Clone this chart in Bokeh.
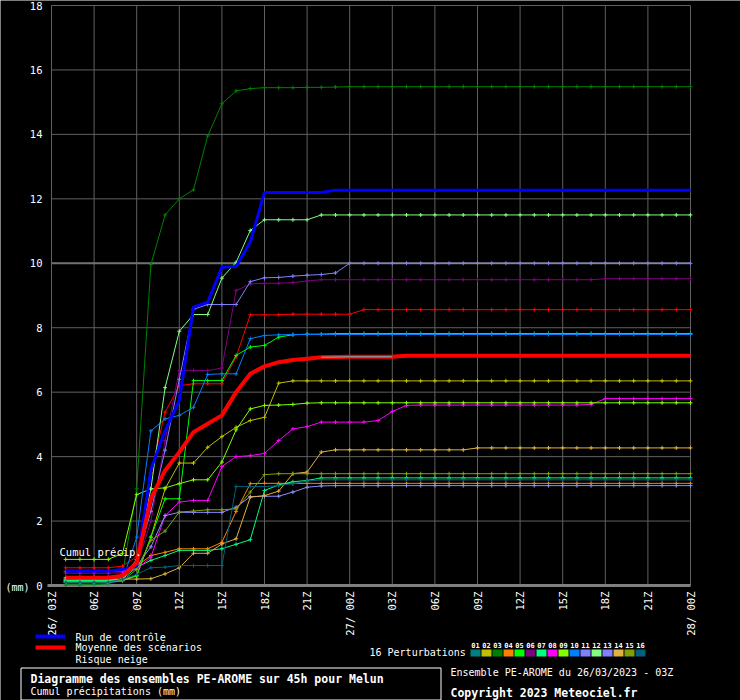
import math
from bokeh.plotting import figure
from bokeh.models import Range1d, ColumnDataSource
from bokeh.core.properties import value
from bokeh.embed import file_html
from bokeh.resources import INLINE

# ---------------- data ----------------
hours = [1, 2, 3, 4, 5, 6, 7, 8, 9, 10, 11, 12, 13, 14, 15, 16, 17, 18, 19, 20,
         21, 22, 23, 24, 25, 26, 27, 28, 29, 30, 31, 32, 33, 34, 35, 36, 37, 38, 39, 40,
         41, 42, 43, 44, 45]

x_ticks = [0, 3, 6, 9, 12, 15, 18, 21, 24, 27, 30, 33, 36, 39, 42, 45]
x_tick_labels = ["26/ 03Z", "06Z", "09Z", "12Z", "15Z", "18Z", "21Z", "27/ 00Z",
                 "03Z", "06Z", "09Z", "12Z", "15Z", "18Z", "21Z", "28/ 00Z"]
y_ticks = [0, 2, 4, 6, 8, 10, 12, 14, 16, 18]
y_tick_labels = ["0", "2", "4", "6", "8", "10", "12", "14", "16", "18"]

m01 = [0.55, 0.55, 0.55, 0.55, 0.6, 0.9, 3.5, 5.38, 6.2, 6.26,
       6.26, 6.26, 7.09, 8.4, 8.4, 8.4, 8.42, 8.42, 8.42, 8.42,
       8.42, 8.56, 8.56, 8.56, 8.56, 8.56, 8.56, 8.56, 8.56, 8.56,
       8.56, 8.56, 8.56, 8.56, 8.56, 8.56, 8.56, 8.56, 8.56, 8.56,
       8.56, 8.56, 8.56, 8.56, 8.56]
m02 = [0.12, 0.12, 0.12, 0.12, 0.15, 0.3, 1.5, 3.0, 3.8, 3.8,
       4.29, 4.62, 4.91, 5.12, 5.22, 6.28, 6.35, 6.35, 6.35, 6.35,
       6.35, 6.35, 6.35, 6.35, 6.35, 6.35, 6.35, 6.35, 6.35, 6.35,
       6.35, 6.35, 6.35, 6.35, 6.35, 6.35, 6.35, 6.35, 6.35, 6.35,
       6.35, 6.35, 6.35, 6.35, 6.35]
m03 = [0.02, 0.02, 0.03, 0.05, 0.35, 3.0, 9.96, 11.5, 12.0, 12.28,
       13.95, 14.95, 15.35, 15.42, 15.45, 15.45, 15.45, 15.46, 15.46, 15.47,
       15.48, 15.48, 15.48, 15.48, 15.48, 15.48, 15.48, 15.48, 15.48, 15.48,
       15.48, 15.48, 15.48, 15.48, 15.48, 15.48, 15.48, 15.48, 15.48, 15.48,
       15.48, 15.48, 15.48, 15.48, 15.48]
m04 = [0.15, 0.15, 0.15, 0.15, 0.3, 0.6, 0.93, 1.03, 1.14, 1.14,
       1.14, 1.34, 2.3, 3.16, 3.17, 3.17, 3.17, 3.17, 3.17, 3.17,
       3.17, 3.17, 3.17, 3.17, 3.17, 3.17, 3.17, 3.17, 3.17, 3.17,
       3.17, 3.17, 3.17, 3.17, 3.17, 3.17, 3.17, 3.17, 3.17, 3.17,
       3.17, 3.17, 3.17, 3.17, 3.17]
m05 = [0.16, 0.16, 0.16, 0.16, 0.2, 0.3, 1.5, 2.69, 2.69, 6.36,
       6.36, 6.36, 7.14, 7.4, 7.45, 7.71, 7.78, 7.8, 7.8, 7.82,
       7.82, 7.82, 7.82, 7.82, 7.82, 7.82, 7.82, 7.82, 7.82, 7.82,
       7.82, 7.82, 7.82, 7.82, 7.82, 7.82, 7.82, 7.82, 7.82, 7.82,
       7.82, 7.82, 7.82, 7.82, 7.82]
m06 = [0.38, 0.38, 0.38, 0.38, 0.4, 0.6, 2.0, 4.5, 6.67, 6.67,
       6.67, 6.75, 9.15, 9.36, 9.38, 9.38, 9.4, 9.45, 9.49, 9.49,
       9.49, 9.49, 9.49, 9.49, 9.49, 9.49, 9.49, 9.49, 9.49, 9.49,
       9.49, 9.49, 9.49, 9.49, 9.49, 9.49, 9.49, 9.49, 9.52, 9.52,
       9.52, 9.52, 9.52, 9.52, 9.52]
m07 = [0.15, 0.15, 0.15, 0.15, 0.2, 0.57, 0.78, 0.93, 1.09, 1.09,
       1.09, 1.14, 1.28, 1.42, 2.95, 3.12, 3.22, 3.26, 3.34, 3.34,
       3.34, 3.34, 3.34, 3.34, 3.34, 3.34, 3.34, 3.34, 3.34, 3.34,
       3.34, 3.34, 3.34, 3.34, 3.34, 3.34, 3.34, 3.34, 3.34, 3.34,
       3.34, 3.34, 3.34, 3.34, 3.34]
m08 = [0.43, 0.43, 0.43, 0.43, 0.45, 0.5, 0.88, 2.17, 2.59, 2.64,
       2.64, 3.69, 4.0, 4.03, 4.1, 4.5, 4.86, 4.93, 5.07, 5.07,
       5.07, 5.07, 5.12, 5.4, 5.59, 5.6, 5.6, 5.6, 5.6, 5.6,
       5.6, 5.6, 5.6, 5.6, 5.6, 5.6, 5.6, 5.62, 5.8, 5.8,
       5.8, 5.8, 5.8, 5.8, 5.8]
m09 = [0.81, 0.81, 0.81, 0.81, 1.0, 2.82, 3.0, 3.03, 3.16, 3.28,
       3.28, 3.83, 4.83, 5.48, 5.59, 5.6, 5.62, 5.66, 5.67, 5.67,
       5.67, 5.67, 5.67, 5.67, 5.67, 5.67, 5.67, 5.67, 5.67, 5.67,
       5.67, 5.67, 5.67, 5.67, 5.67, 5.67, 5.67, 5.67, 5.67, 5.67,
       5.67, 5.67, 5.67, 5.67, 5.67]
m10 = [0.08, 0.08, 0.08, 0.08, 0.15, 1.5, 4.8, 5.17, 5.28, 5.53,
       6.55, 6.57, 6.57, 7.66, 7.76, 7.78, 7.79, 7.79, 7.79, 7.79,
       7.79, 7.79, 7.79, 7.79, 7.79, 7.79, 7.79, 7.79, 7.79, 7.79,
       7.79, 7.79, 7.79, 7.79, 7.79, 7.79, 7.79, 7.79, 7.79, 7.79,
       7.79, 7.79, 7.79, 7.79, 7.79]
m11 = [0.2, 0.2, 0.2, 0.2, 0.3, 0.8, 2.3, 4.2, 6.4, 8.57,
       8.72, 8.72, 8.72, 9.43, 9.55, 9.56, 9.6, 9.63, 9.65, 9.7,
       10.0, 10.0, 10.0, 10.0, 10.0, 10.0, 10.0, 10.0, 10.0, 10.0,
       10.0, 10.0, 10.0, 10.0, 10.0, 10.0, 10.0, 10.0, 10.0, 10.0,
       10.0, 10.0, 10.0, 10.0, 10.0]
m12 = [0.1, 0.1, 0.1, 0.1, 0.2, 0.8, 3.0, 6.14, 7.89, 8.41,
       8.41, 9.54, 10.03, 11.02, 11.35, 11.35, 11.35, 11.35, 11.5, 11.5,
       11.5, 11.5, 11.5, 11.5, 11.5, 11.5, 11.5, 11.5, 11.5, 11.5,
       11.5, 11.5, 11.5, 11.5, 11.5, 11.5, 11.5, 11.5, 11.5, 11.5,
       11.5, 11.5, 11.5, 11.5, 11.5]
m13 = [0.25, 0.25, 0.25, 0.25, 0.3, 0.6, 1.2, 2.17, 2.27, 2.27,
       2.27, 2.27, 2.43, 2.76, 2.77, 2.77, 2.9, 3.05, 3.09, 3.1,
       3.1, 3.1, 3.1, 3.1, 3.1, 3.1, 3.1, 3.1, 3.1, 3.1,
       3.1, 3.1, 3.1, 3.1, 3.1, 3.1, 3.1, 3.1, 3.1, 3.1,
       3.1, 3.1, 3.1, 3.1, 3.1]
m14 = [0.2, 0.2, 0.2, 0.2, 0.2, 0.2, 0.21, 0.36, 0.55, 1.0,
       1.0, 1.29, 1.45, 2.74, 2.79, 2.93, 3.47, 3.52, 4.14, 4.21,
       4.21, 4.21, 4.21, 4.21, 4.21, 4.21, 4.21, 4.21, 4.21, 4.27,
       4.27, 4.27, 4.27, 4.27, 4.27, 4.27, 4.27, 4.27, 4.27, 4.27,
       4.27, 4.27, 4.27, 4.27, 4.27]
m15 = [0.1, 0.1, 0.1, 0.1, 0.15, 0.5, 1.4, 1.69, 2.28, 2.31,
       2.35, 2.35, 2.38, 2.9, 3.44, 3.47, 3.47, 3.47, 3.47, 3.47,
       3.47, 3.47, 3.47, 3.47, 3.47, 3.47, 3.47, 3.47, 3.47, 3.47,
       3.47, 3.47, 3.47, 3.47, 3.47, 3.47, 3.47, 3.47, 3.47, 3.47,
       3.47, 3.47, 3.47, 3.47, 3.47]
m16 = [0.1, 0.1, 0.1, 0.1, 0.2, 0.35, 0.55, 0.57, 0.62, 0.62,
       0.62, 0.62, 3.07, 3.07, 3.07, 3.1, 3.16, 3.24, 3.28, 3.28,
       3.28, 3.28, 3.28, 3.28, 3.28, 3.28, 3.28, 3.28, 3.28, 3.28,
       3.28, 3.28, 3.28, 3.28, 3.28, 3.28, 3.28, 3.28, 3.28, 3.28,
       3.28, 3.28, 3.28, 3.28, 3.28]
control = [0.45, 0.45, 0.45, 0.45, 0.5, 0.6, 3.6, 4.8, 5.74, 8.64,
           8.79, 9.88, 9.9, 10.66, 12.2, 12.2, 12.2, 12.2, 12.2, 12.27,
           12.27, 12.27, 12.27, 12.27, 12.27, 12.27, 12.27, 12.27, 12.27, 12.27,
           12.27, 12.27, 12.27, 12.27, 12.27, 12.27, 12.27, 12.27, 12.27, 12.27,
           12.27, 12.27, 12.27, 12.27, 12.27]
mean = [0.24, 0.24, 0.24, 0.24, 0.3, 0.7, 2.7, 3.57, 4.14, 4.76,
        5.02, 5.28, 6.0, 6.57, 6.8, 6.93, 7.0, 7.04, 7.08, 7.09,
        7.1, 7.1, 7.1, 7.1, 7.13, 7.13, 7.13, 7.13, 7.13, 7.13,
        7.13, 7.13, 7.13, 7.13, 7.13, 7.13, 7.13, 7.13, 7.13, 7.13,
        7.13, 7.13, 7.13, 7.13, 7.13]
snow_hours = [19, 20, 21, 22, 23, 24]

members = [m01, m02, m03, m04, m05, m06, m07, m08, m09, m10, m11, m12, m13, m14, m15, m16]
line_colors = ["#ff0000", "#c0c000", "#008000", "#ff8000", "#00ff00", "#800080", "#00ff80",
               "#ff00ff", "#80ff00", "#0080ff", "#8080ff", "#80ff80", "#8c8cff", "#e0b040",
               "#80a000", "#00607f"]
box_labels = ["01", "02", "03", "04", "05", "06", "07", "08", "09", "10", "11", "12",
              "13", "14", "15", "16"]
box_colors = ["#008080", "#c0c000", "#008000", "#ff8000", "#00ff00", "#800080", "#00ff80",
              "#ff00ff", "#80ff00", "#0080ff", "#8080ff", "#80ff80", "#8080ff", "#e0b040",
              "#80a000", "#006080"]

# ---------------- geometry (canvas pixels -> data) ----------------
W, H = 740, 700
X0PX, X45PX = 51.0, 690.0        # pixel of hour 0 and hour 45
Y0PX, Y18PX = 585.0, 5.0         # pixel of 0 mm and 18 mm
SX = (X45PX - X0PX) / (x_ticks[-1] - x_ticks[0])
SY = (Y0PX - Y18PX) / (y_ticks[-1] - y_ticks[0])


def dx(px):
    return (px - X0PX) / SX


def dy(py):
    return (Y0PX - py) / SY


MONO = value("DejaVu Sans Mono")
WHITE = "#ffffff"

p = figure(width=W, height=H, output_backend="svg", toolbar_location=None,
           x_range=Range1d(dx(0), dx(W)), y_range=Range1d(dy(H), dy(0)),
           x_axis_location=None, y_axis_location=None,
           min_border=0, min_border_left=0, min_border_right=0,
           min_border_top=0, min_border_bottom=0)
p.background_fill_color = "#000000"
p.border_fill_color = "#000000"
p.outline_line_color = None
p.xgrid.visible = False
p.ygrid.visible = False

# ---------------- grid ----------------
GRID = "#606060"
p.segment(x0=x_ticks, y0=[y_ticks[0]] * len(x_ticks), x1=x_ticks, y1=[y_ticks[-1]] * len(x_ticks),
          line_color=GRID, line_width=1)
p.segment(x0=[x_ticks[0]] * len(y_ticks), y0=y_ticks, x1=[x_ticks[-1]] * len(y_ticks), y1=y_ticks,
          line_color=GRID, line_width=1)
p.segment(x0=[x_ticks[0]], y0=[y_ticks[5]], x1=[x_ticks[-1]], y1=[y_ticks[5]],
          line_color="#707070", line_width=2)
p.segment(x0=[dx(47)], y0=[y_ticks[0]], x1=[x_ticks[-1]], y1=[y_ticks[0]],
          line_color="#808080", line_width=3)

# ---------------- tick labels ----------------
p.text(x=x_ticks, y=[dy(591)] * len(x_ticks), text=x_tick_labels, angle=math.pi / 2,
       text_align="right", text_baseline="middle", text_color=WHITE,
       text_font=MONO, text_font_size="10.5px")
p.text(x=[dx(42)] * len(y_ticks), y=y_ticks, text=y_tick_labels,
       text_align="right", text_baseline="middle", text_color=WHITE,
       text_font=MONO, text_font_size="10.5px")
p.text(x=[dx(5)], y=[dy(587)], text=["(mm)"], text_align="left", text_baseline="middle",
       text_color=WHITE, text_font=MONO, text_font_size="10px")

# ---------------- series ----------------
for vals, col in zip(members, line_colors):
    src = ColumnDataSource(dict(x=hours, y=vals))
    p.line("x", "y", source=src, line_color=col, line_width=1)
    p.scatter("x", "y", source=src, marker="cross", size=4, line_color=col, line_width=1)

p.line(hours, control, line_color="#0000ff", line_width=3)
p.line(hours, mean, line_color="#ff0000", line_width=4)
snow_y = [mean[hours.index(h)] for h in snow_hours]
p.line(snow_hours, snow_y, line_color="#8a8a8a", line_width=1.5)

# in-plot label
p.text(x=[dx(59)], y=[dy(551)], text=["Cumul précip."], text_align="left",
       text_baseline="middle", text_color=WHITE, text_font=MONO, text_font_size="10.5px")

# ---------------- legend ----------------
p.quad(left=[dx(35), dx(35)], right=[dx(65), dx(65)], top=[dy(634), dy(645)],
       bottom=[dy(638), dy(649)], fill_color=["#0000ff", "#ff0000"], line_color=None)
p.text(x=[dx(75)] * 3, y=[dy(637), dy(647), dy(659)],
       text=["Run de contrôle", "Moyenne des scénarios", "Risque neige"],
       text_align="left", text_baseline="middle", text_color=WHITE,
       text_font=MONO, text_font_size="10px")

p.text(x=[dx(369)], y=[dy(652)], text=["16 Perturbations"], text_align="left",
       text_baseline="middle", text_color=WHITE, text_font=MONO, text_font_size="10px")
box_left = [dx(470 + 11 * i) for i in range(len(box_labels))]
box_right = [dx(480 + 11 * i) for i in range(len(box_labels))]
box_mid = [dx(475 + 11 * i) for i in range(len(box_labels))]
p.quad(left=box_left, right=box_right, top=[dy(649)] * len(box_labels),
       bottom=[dy(656)] * len(box_labels), fill_color=box_colors, line_color=None)
p.text(x=box_mid, y=[dy(644)] * len(box_labels), text=box_labels, text_align="center",
       text_baseline="middle", text_color=WHITE, text_font=MONO, text_font_size="7px",
       text_font_style="bold")

# ---------------- title box ----------------
p.quad(left=[dx(20.5)], right=[dx(440.5)], top=[dy(667.5)], bottom=[dy(699.5)],
       fill_color=None, line_color=WHITE, line_width=1)
p.text(x=[dx(30)], y=[dy(678)], text=["Diagramme des ensembles PE-AROME sur 45h pour Melun"],
       text_align="left", text_baseline="middle", text_color=WHITE, text_font=MONO,
       text_font_size="11.5px", text_font_style="bold")
p.text(x=[dx(30)], y=[dy(691)], text=["Cumul précipitations (mm)"], text_align="left",
       text_baseline="middle", text_color=WHITE, text_font=MONO, text_font_size="10px")
p.text(x=[dx(450)], y=[dy(672)], text=["Ensemble PE-AROME du 26/03/2023 - 03Z"],
       text_align="left", text_baseline="middle", text_color=WHITE, text_font=MONO,
       text_font_size="10px")
p.text(x=[dx(450)], y=[dy(692)], text=["Copyright 2023 Meteociel.fr"], text_align="left",
       text_baseline="middle", text_color=WHITE, text_font=MONO, text_font_size="11.5px",
       text_font_style="bold")

open("out.html", "w").write(file_html(p, INLINE))
